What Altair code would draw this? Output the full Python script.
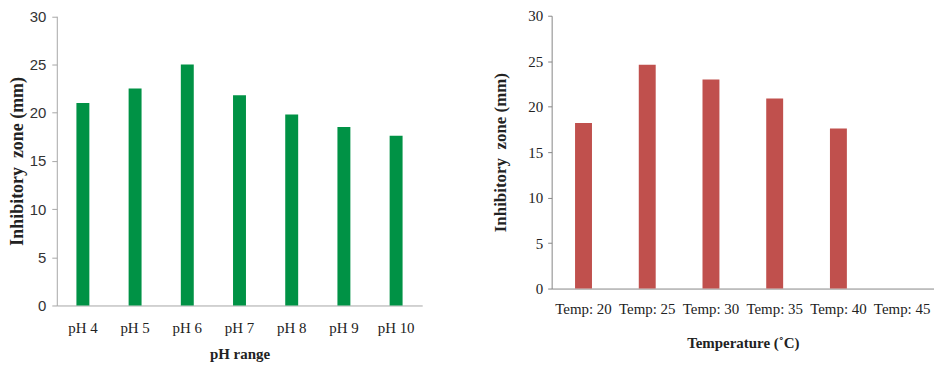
import altair as alt
import pandas as pd

ph_labels = ["pH 4", "pH 5", "pH 6", "pH 7", "pH 8", "pH 9", "pH 10"]
ph_values = [21.0, 22.5, 25.0, 21.8, 19.8, 18.5, 17.6]

temp_labels = ["Temp: 20", "Temp: 25", "Temp: 30", "Temp: 35", "Temp: 40", "Temp: 45"]
temp_values = [18.2, 24.6, 23.0, 20.9, 17.6, None]

y_ticks = [0, 5, 10, 15, 20, 25, 30]

df_ph = pd.DataFrame({"cat": ph_labels, "val": ph_values})
df_t = pd.DataFrame({"cat": temp_labels, "val": temp_values})

SERIF = "Liberation Serif"
SANS = "Liberation Sans"
Y_TITLE = "Inhibitory\u00a0 zone (mm)"

left = alt.Chart(df_ph).mark_bar(size=13, color="#009245").encode(
    x=alt.X("cat:N", sort=ph_labels, title="pH range",
            scale=alt.Scale(paddingInner=0, paddingOuter=0),
            axis=alt.Axis(labelAngle=0, labelFont=SERIF, labelFontSize=15, labelColor="#222222",
                          labelPadding=15, ticks=False, domainColor="#A6A6A6",
                          titleFont=SERIF, titleFontSize=15, titleFontWeight="bold",
                          titleColor="#222222", titlePadding=11)),
    y=alt.Y("val:Q", title=Y_TITLE,
            scale=alt.Scale(domain=[0, 30], nice=False, range=[291, 0.5]),
            axis=alt.Axis(values=y_ticks, grid=False, labelFont=SANS, labelFontSize=15,
                          labelColor="#333333", labelPadding=6, tickSize=5, tickColor="#A6A6A6",
                          domainColor="#A6A6A6",
                          titleFont=SERIF, titleFontSize=18, titleFontWeight="bold",
                          titleColor="#222222", titlePadding=3)),
).properties(width=367, height=291)

right = alt.Chart(df_t).mark_bar(size=17, color="#C0504D").encode(
    x=alt.X("cat:N", sort=temp_labels, title="Temperature (˚C)",
            scale=alt.Scale(paddingInner=0, paddingOuter=0),
            axis=alt.Axis(labelAngle=0, labelFont=SERIF, labelFontSize=15, labelColor="#222222",
                          labelPadding=13, ticks=False, domainColor="#868686",
                          titleFont=SERIF, titleFontSize=15, titleFontWeight="bold",
                          titleColor="#222222", titlePadding=19)),
    y=alt.Y("val:Q", title=Y_TITLE,
            scale=alt.Scale(domain=[0, 30], nice=False),
            axis=alt.Axis(values=y_ticks, grid=False, labelFont=SERIF, labelFontSize=15,
                          labelColor="#222222", labelPadding=5, tickSize=4, tickColor="#868686",
                          domainColor="#868686",
                          titleFont=SERIF, titleFontSize=17, titleFontWeight="bold",
                          titleColor="#222222", titlePadding=18)),
).properties(width=384, height=274)

chart = alt.hconcat(left, right, spacing=70).properties(padding=0).configure_view(stroke=None)

chart.save("out.html", embed_options={"renderer": "svg", "actions": False})
